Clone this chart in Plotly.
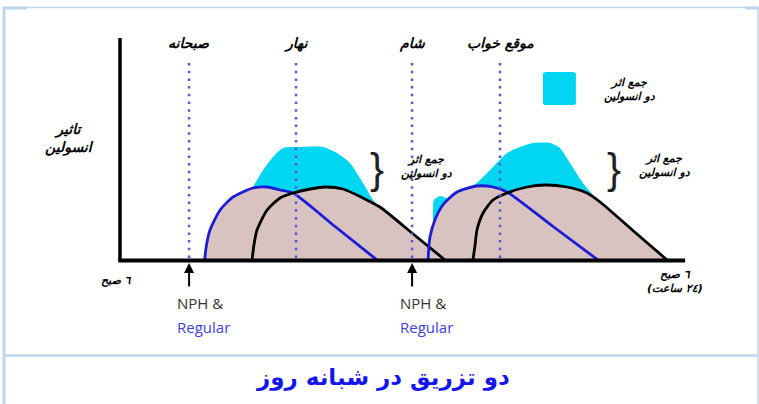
import plotly.graph_objects as go

# x: hours after 6 AM, y: relative insulin effect
meal_labels = ["صبحانه", "نهار", "شام", "موقع خواب"]
meal_hours = [2.94, 7.49, 12.43, 16.17]
injection_hours = [2.94, 12.43]

# morning injection
regular_am_h = [3.6, 3.68, 3.83, 4.26, 4.81, 5.66, 6.26, 6.81, 7.36, 9.15, 10.94]
regular_am_e = [0, 15, 30, 50, 63, 72, 73, 70, 67, 33.5, 0]
nph_am_h = [5.62, 5.7, 5.83, 6.26, 6.81, 7.36, 8.09, 8.72, 9.49, 10.34, 11.06, 12.45, 13.83]
nph_am_e = [0, 15, 30, 50, 62, 67, 71, 73, 71, 62, 53, 26.5, 0]
sum_am_h = [5.66, 6.09, 6.51, 6.94, 7.66, 8.64, 9.23, 9.79, 10.34, 10.77, 11.02]
sum_am_e = [73, 90, 103, 112, 113, 113, 107, 97, 77, 60, 53]

# evening injection
regular_pm_h = [13.11, 13.15, 13.19, 13.40, 13.74, 14.34, 15.19, 15.87, 16.47, 18.4, 20.34]
regular_pm_e = [0, 15, 23, 40, 55, 68, 74, 73, 68, 34, 0]
nph_pm_h = [15.02, 15.11, 15.19, 15.45, 15.87, 16.47, 17.32, 18.09, 19.02, 19.87, 20.43, 21.85, 23.28]
nph_pm_e = [0, 15, 30, 47, 60, 67, 73, 75, 73, 67, 58, 29, 0]
sum_pm_h = [13.32, 13.36, 13.62, 13.91, 14.26, 14.89, 15.32, 15.87, 16.47, 17.02, 17.57,
            18.30, 18.72, 19.15, 19.70, 20.43, 20.98]
sum_pm_e = [45, 60, 64, 62, 65, 72, 80, 93, 107, 113, 117, 117, 112, 97, 77, 57, 45]

CYAN = "#00d6f2"
BROWN = "#d8c3c0"
BLUE = "#1c1cd6"
DOT = "#5a5acc"
FRAME = "#bdd7ee"
AR_FONT = "DejaVu Sans"
SMOOTH = 0.65

fig = go.Figure()

for hx, ey in [(sum_am_h, sum_am_e), (sum_pm_h, sum_pm_e)]:
    fig.add_trace(go.Scatter(x=hx, y=ey, mode="lines", fill="tozeroy",
                             fillcolor=CYAN, line=dict(width=0, shape="spline", smoothing=SMOOTH),
                             hoverinfo="skip", showlegend=False))

curves = [(regular_am_h, regular_am_e, BLUE), (nph_am_h, nph_am_e, "black"),
          (regular_pm_h, regular_pm_e, BLUE), (nph_pm_h, nph_pm_e, "black")]
for hx, ey, _ in curves:
    fig.add_trace(go.Scatter(x=hx, y=ey, mode="lines", fill="tozeroy",
                             fillcolor=BROWN, line=dict(width=0, shape="spline", smoothing=SMOOTH),
                             hoverinfo="skip", showlegend=False))
for hx, ey, col in curves:
    fig.add_trace(go.Scatter(x=hx, y=ey, mode="lines",
                             line=dict(width=2.8, color=col, shape="spline", smoothing=SMOOTH),
                             hoverinfo="skip", showlegend=False))

shapes = []
# meal markers
for h in meal_hours:
    shapes.append(dict(type="line", xref="x", yref="y", x0=h, x1=h, y0=2, y1=202,
                       line=dict(color=DOT, width=2.5, dash="2.5px,5.2px"), layer="above"))
# axes
shapes.append(dict(type="line", xref="x", yref="y", x0=0, x1=0, y0=-1, y1=222,
                   line=dict(color="black", width=3.5)))
shapes.append(dict(type="line", xref="x", yref="y", x0=-0.07, x1=24.05, y0=-0.5, y1=-0.5,
                   line=dict(color="black", width=3.8)))
# legend key
shapes.append(dict(type="path", xref="x", yref="y",
                   path="M 18.15 188 L 19.25 188 Q 19.4 188 19.4 186 L 19.4 157 Q 19.4 155 19.25 155 "
                        "L 18.15 155 Q 18.0 155 18.0 157 L 18.0 186 Q 18.0 188 18.15 188 Z",
                   fillcolor=CYAN, line=dict(width=0)))
# frame
P = lambda px: 1 - px / 404
W = lambda px: px / 759
shapes += [
    dict(type="line", xref="paper", yref="paper", x0=W(4), x1=W(4), y0=P(7), y1=0,
         line=dict(color=FRAME, width=3)),
    dict(type="line", xref="paper", yref="paper", x0=W(3), x1=W(758), y0=P(7.5), y1=P(7.5),
         line=dict(color=FRAME, width=1.5)),
    dict(type="line", xref="paper", yref="paper", x0=W(3), x1=W(27), y0=P(8), y1=P(8),
         line=dict(color=FRAME, width=3)),
    dict(type="line", xref="paper", yref="paper", x0=W(745), x1=W(758), y0=P(8), y1=P(8),
         line=dict(color=FRAME, width=3)),
    dict(type="line", xref="paper", yref="paper", x0=W(758), x1=W(758), y0=P(7), y1=0,
         line=dict(color=FRAME, width=1.5)),
    dict(type="line", xref="paper", yref="paper", x0=W(5), x1=W(758), y0=P(355.5), y1=P(355.5),
         line=dict(color=FRAME, width=2.5)),
]

ann = []
lab_font = dict(family=AR_FONT, size=14, color="black", weight="bold", style="italic")
small_font = dict(family=AR_FONT, size=11, color="black", weight="bold", style="italic")
for name, h in zip(meal_labels, meal_hours):
    ann.append(dict(x=h, y=217, text=name, showarrow=False, font=lab_font))
ann.append(dict(x=-2.13, y=122, text="تاثیر<br>انسولین", showarrow=False,
                font=lab_font, align="center"))
ann.append(dict(x=21.7, y=171, text="جمع اثر<br>دو انسولین", showarrow=False,
                font=small_font, align="center"))
ann.append(dict(x=13.07, y=94, text="جمع اثر<br>دو انسولین", showarrow=False,
                font=small_font, align="center"))
ann.append(dict(x=23.19, y=95, text="جمع اثر<br>دو انسولین", showarrow=False,
                font=small_font, align="center"))
for bx in [10.95, 21.0]:
    ann.append(dict(x=bx, y=92, text="}", showarrow=False,
                    font=dict(family="Liberation Sans", size=42, color="#222")))
ann.append(dict(x=-0.15, y=-20, text="٦ صبح", showarrow=False, font=small_font))
ann.append(dict(x=23.6, y=-21, text="٦ صبح<br>(٢٤ ساعت)", showarrow=False,
                font=small_font, align="center"))
for h in injection_hours:
    ann.append(dict(x=h, y=-3, ax=h, ay=-28, xref="x", yref="y", axref="x", ayref="y",
                    text="", showarrow=True, arrowhead=2, arrowsize=1, arrowwidth=2,
                    arrowcolor="black"))
    ann.append(dict(x=h + 0.45, y=-43, text="NPH &", showarrow=False,
                    font=dict(family="Open Sans", size=15, color="#333333")))
    ann.append(dict(x=h + 0.6, y=-67, text="Regular", showarrow=False,
                    font=dict(family="Open Sans", size=15, color="#3f3fe0")))
ann.append(dict(xref="paper", yref="paper", x=W(383), y=P(393),
                text="دو تزریق در شبانه روز", showarrow=False,
                font=dict(family=AR_FONT, size=23, color="#1515ee", weight="bold")))

fig.update_layout(
    width=759, height=404, margin=dict(l=0, r=0, t=0, b=0),
    paper_bgcolor="white", plot_bgcolor="white",
    xaxis=dict(visible=False, range=[-120 / 23.5, 639 / 23.5], fixedrange=True),
    yaxis=dict(visible=False, range=[-144, 260], fixedrange=True),
    shapes=shapes, annotations=ann, showlegend=False,
)

fig.write_html("out.html")
